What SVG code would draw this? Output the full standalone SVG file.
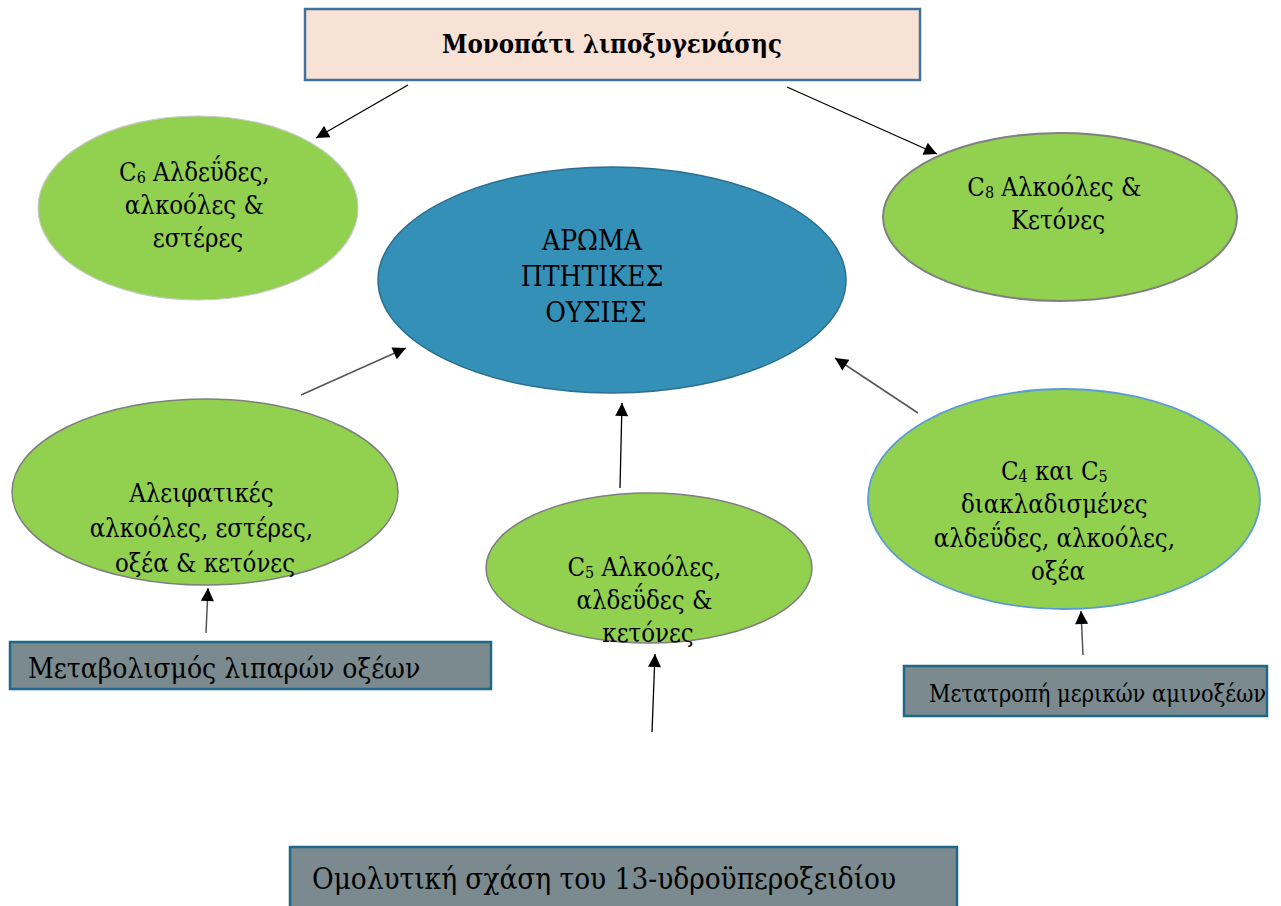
<svg xmlns="http://www.w3.org/2000/svg" width="1281" height="906" viewBox="0 0 1281 906">
<style>
.t{font-family:"DejaVu Serif","Liberation Serif",serif;font-stretch:condensed;fill:#000}
.g{fill:#92d050}
.box{fill:#7a8a8e;stroke:#1f6888;stroke-width:2.5}
.ln{stroke:#000;stroke-width:1.3;fill:none}
.ln2{stroke:#555;stroke-width:1.5;fill:none}
</style>
<defs>
<marker id="ah" viewBox="0 0 10 10" refX="10" refY="5" markerUnits="userSpaceOnUse" markerWidth="15" markerHeight="13" orient="auto">
<path d="M0,0 L10,5 L0,10 z" fill="#000"/>
</marker>
<clipPath id="clipR"><rect x="904" y="666" width="363" height="50"/></clipPath>
</defs>
<rect width="1281" height="906" fill="#fff"/>

<g id="connectors">
<line class="ln" x1="408" y1="85" x2="316" y2="138" marker-end="url(#ah)"/>
<line class="ln" x1="787" y1="87" x2="937" y2="154" marker-end="url(#ah)"/>
<line class="ln2" x1="301" y1="395" x2="406" y2="348" marker-end="url(#ah)"/>
<line class="ln2" x1="918" y1="413" x2="835" y2="358" marker-end="url(#ah)"/>
<line class="ln" x1="620" y1="488" x2="622" y2="403" marker-end="url(#ah)"/>
<line class="ln2" x1="206" y1="633" x2="208" y2="588" marker-end="url(#ah)"/>
<line class="ln" x1="652" y1="732" x2="655" y2="654" marker-end="url(#ah)"/>
<line class="ln2" x1="1083" y1="655" x2="1081" y2="611" marker-end="url(#ah)"/>
</g>

<g id="top">
<rect x="305" y="9" width="615" height="71" fill="#f8e2d5" stroke="#41719c" stroke-width="2.5"/>
<text class="t" x="612" y="53" font-size="25.5" font-weight="bold" text-anchor="middle">Μονοπάτι λιποξυγενάσης</text>
</g>

<g id="c6">
<ellipse class="g" cx="198" cy="208" rx="160" ry="92" stroke="#c8c8c8" stroke-width="1.2"/>
<text class="t" font-size="25.5" text-anchor="middle">
<tspan x="198" y="181">C<tspan font-size="16" dy="2">6</tspan><tspan dy="-2"> Αλδεΰδες,</tspan></tspan>
<tspan x="198" y="214">αλκοόλες &amp;</tspan>
<tspan x="198" y="247">εστέρες</tspan>
</text>
</g>

<g id="c8">
<ellipse class="g" cx="1060" cy="217" rx="177" ry="84" stroke="#808080" stroke-width="2"/>
<text class="t" font-size="25.5" text-anchor="middle">
<tspan x="1058" y="196">C<tspan font-size="16" dy="2">8</tspan><tspan dy="-2"> Αλκοόλες &amp;</tspan></tspan>
<tspan x="1058" y="229">Κετόνες</tspan>
</text>
</g>

<g id="center">
<ellipse cx="612" cy="280" rx="234" ry="113" fill="#3590b7" stroke="#2c6f92" stroke-width="1.5"/>
<text class="t" font-size="28" text-anchor="middle">
<tspan x="596" y="250">ΑΡΩΜΑ</tspan>
<tspan x="596" y="286">ΠΤΗΤΙΚΕΣ</tspan>
<tspan x="596" y="322">ΟΥΣΙΕΣ</tspan>
</text>
</g>

<g id="aliphatic">
<ellipse class="g" cx="205" cy="492" rx="193" ry="93" stroke="#7f7f7f" stroke-width="1.5"/>
<text class="t" font-size="25.5" text-anchor="middle">
<tspan x="205" y="502">Αλειφατικές</tspan>
<tspan x="205" y="537">αλκοόλες, εστέρες,</tspan>
<tspan x="205" y="572">οξέα &amp; κετόνες</tspan>
</text>
</g>

<g id="c5">
<ellipse class="g" cx="649" cy="568" rx="163" ry="75" stroke="#7f7f7f" stroke-width="1.5"/>
<text class="t" font-size="25.5" text-anchor="middle">
<tspan x="648" y="576">C<tspan font-size="16" dy="2">5</tspan><tspan dy="-2"> Αλκοόλες,</tspan></tspan>
<tspan x="648" y="609">αλδεΰδες &amp;</tspan>
<tspan x="648" y="642">κετόνες</tspan>
</text>
</g>

<g id="c4c5">
<ellipse class="g" cx="1064" cy="499" rx="196" ry="110" stroke="#5b9bd5" stroke-width="1.8"/>
<text class="t" font-size="25.5" text-anchor="middle">
<tspan x="1058" y="480">C<tspan font-size="16" dy="2">4</tspan><tspan dy="-2"> και C</tspan><tspan font-size="16" dy="2">5</tspan></tspan>
<tspan x="1058" y="513">διακλαδισμένες</tspan>
<tspan x="1058" y="547">αλδεΰδες, αλκοόλες,</tspan>
<tspan x="1058" y="580">οξέα</tspan>
</text>
</g>

<g id="fatty">
<rect class="box" x="10" y="642" width="481" height="47"/>
<text class="t" x="28" y="678" font-size="28">Μεταβολισμός λιπαρών οξέων</text>
</g>

<g id="amino">
<rect class="box" x="904" y="666" width="363" height="50"/>
<text class="t" x="929" y="702" font-size="23.4" clip-path="url(#clipR)">Μετατροπή μερικών αμινοξέων</text>
</g>

<g id="homolytic">
<rect class="box" x="290" y="847" width="667" height="62"/>
<text class="t" x="312" y="889" font-size="29.4">Ομολυτική σχάση του 13-υδροϋπεροξειδίου</text>
</g>
</svg>
